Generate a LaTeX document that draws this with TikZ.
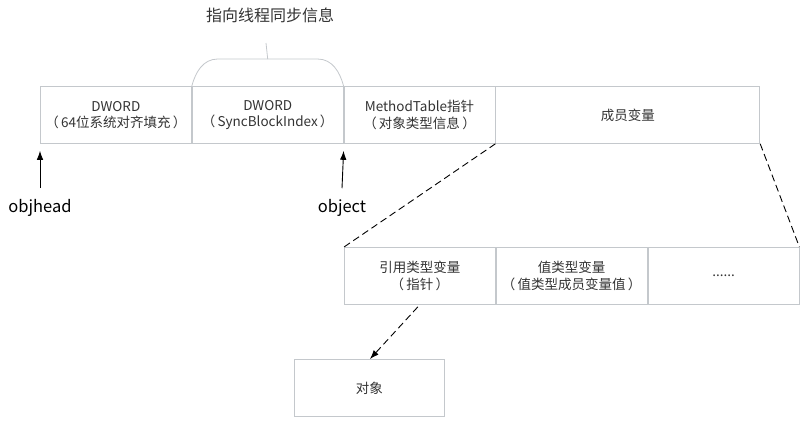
\documentclass[tikz,border=0pt]{standalone}
\usepackage{fontspec}
\setmainfont{Noto Sans CJK SC}
\usepackage{tikz}
\usepackage{xcolor}
\usetikzlibrary{positioning}
\usetikzlibrary{calc}
\usetikzlibrary{arrows.meta}
\definecolor{cellline}{HTML}{C4C8CC}
\definecolor{inktext}{HTML}{333333}
\tikzset{
  cell/.style={rectangle, draw=cellline, line width=0.8pt, minimum width=151pt,
    minimum height=57pt, inner sep=0pt, align=center, text=inktext,
    font=\fontsize{13.5}{16.5}\selectfont},
  pointer/.style={font=\fontsize{16.5}{18}\selectfont, text=black, inner sep=1pt},
  tip/.style={-{Latex[length=9pt,width=6.5pt]}, line width=0.9pt}
}

\begin{document}
\begin{tikzpicture}[x=1pt,y=-1pt]
    \useasboundingbox (0,0) rectangle (802,424);
    \node[cell,anchor=north west] (dword1) at (40,86) {DWORD\\（\,64位系统对齐填充\,）};
    \node[cell,right = 0pt of dword1] (dword2) {DWORD\\（\,SyncBlockIndex\,）};
    \node[cell,right = 0pt of dword2] (mtable) {MethodTable指针\\（\,对象类型信息\,）};
    \node[cell,right = 0pt of mtable,minimum width=264pt] (fields) {成员变量};

    \node[cell,anchor=north west] (ref) at (344,247) {引用类型变量\\（\,指针\,）};
    \node[cell,right = 0pt of ref] (val) {值类型变量\\（\,值类型成员变量值\,）};
    \node[cell,right = 0pt of val] (dots) {......};

    \node[cell,anchor=north west,minimum width=150pt] (obj) at (294,359) {对象};

    \node[pointer] (objhead) at (40,208) {objhead};
    \node[pointer] (object) at (342,208) {object};
    \node[font=\fontsize{16}{18}\selectfont, text=inktext] (sync) at (270,15) {指向线程同步信息};
    \coordinate (syncfoot) at (266,43);

    % brace over the SyncBlockIndex cell
    \draw[cellline, line width=0.8pt] (dword2.north west) to[out=75,in=180] ($(dword2.north west)+(26,-27)$)
      -- ($(dword2.north east)+(-26,-27)$) to[out=0,in=105] (dword2.north east);
    \draw[cellline, line width=0.8pt] ($(dword2.north)+(0,-27)$) -- (syncfoot);

    \draw[tip] ($(objhead.north)+(0,-10)$) -- ($(dword1.south west)+(0,7)$);
    \draw[tip] ($(object.north)+(0,-10)$) -- ($(mtable.south west)+(0,7)$);

    \draw[line width=0.9pt, dash pattern=on 7pt off 4pt] (fields.south west) -- (ref.north west);
    \draw[line width=0.9pt, dash pattern=on 7pt off 4pt] (fields.south east) -- (dots.north east);
    \draw[tip, dash pattern=on 7pt off 4pt] ($(ref.south)+(-2,2)$) -- ($(obj.north west)+(76,0)$);
  \end{tikzpicture}
\end{document}
